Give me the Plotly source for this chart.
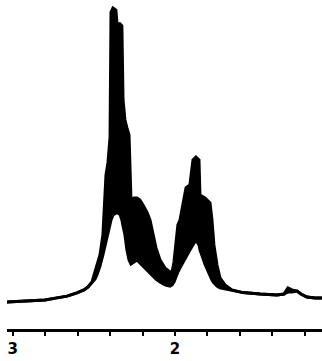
import plotly.graph_objects as go

# chemical shift (ppm)
ppm = [3.035, 2.955, 2.875, 2.801, 2.727, 2.665, 2.604, 2.561, 2.536, 2.511,
       2.493, 2.481, 2.462, 2.444, 2.431, 2.425, 2.413, 2.400, 2.394, 2.382,
       2.364, 2.357, 2.339, 2.327, 2.320, 2.308, 2.296, 2.283, 2.271, 2.253,
       2.234, 2.216, 2.197, 2.173, 2.154, 2.136, 2.117, 2.092, 2.062, 2.031,
       2.018, 2.006, 1.994, 1.982, 1.969, 1.951, 1.932, 1.908, 1.889, 1.871,
       1.852, 1.846, 1.815, 1.784, 1.772, 1.760, 1.741, 1.723, 1.692, 1.649,
       1.581, 1.476, 1.372, 1.328, 1.304, 1.279, 1.248, 1.224, 1.187, 1.137,
       1.094]

# upper envelope of the unresolved multiplet signal (relative intensity)
upper = [0.0, 0.2, 0.3, 0.7, 1.4, 2.0, 3.1, 4.1, 5.1, 6.8,
         10.2, 12.2, 16.0, 22.8, 38.1, 43.2, 47.3, 56.1, 98.6, 100.0,
         99.3, 94.6, 94.6, 93.9, 68.7, 61.9, 59.2, 56.8, 34.7, 35.4,
         35.4, 34.7, 33.0, 30.6, 27.9, 23.8, 18.4, 14.3, 11.6, 10.2,
         10.2, 13.6, 19.4, 26.2, 27.9, 33.0, 38.8, 39.8, 48.3, 49.3,
         48.3, 36.4, 35.4, 33.7, 27.9, 19.4, 12.6, 8.2, 5.8, 4.1,
         3.2, 2.7, 2.4, 2.7, 4.8, 4.1, 3.7, 2.7, 1.7, 1.4,
         1.4]

# lower envelope of the signal (relative intensity)
lower = [0.0, 0.2, 0.3, 0.7, 1.4, 2.0, 3.1, 4.1, 5.1, 6.8,
         7.8, 9.2, 12.2, 16.0, 19.4, 21.1, 23.8, 26.5, 27.9, 29.6,
         30.3, 30.3, 29.9, 27.9, 25.9, 22.8, 17.7, 14.3, 12.9, 13.6,
         14.3, 13.3, 12.2, 10.9, 9.9, 8.8, 7.8, 6.8, 5.8, 5.4,
         5.8, 6.8, 8.8, 10.2, 11.6, 13.6, 15.3, 17.7, 19.7, 21.1,
         19.4, 17.7, 12.9, 8.8, 7.5, 6.5, 5.4, 4.8, 4.4, 4.1,
         3.2, 2.7, 2.4, 2.7, 3.4, 3.4, 3.7, 2.7, 1.7, 1.4,
         1.4]

tick_vals = [3.0, 2.8, 2.6, 2.4, 2.2, 2.0, 1.8, 1.6, 1.4, 1.2]
tick_text = ["3", "", "", "", "", "2", "", "", "", ""]

fig = go.Figure()
fig.add_trace(go.Scatter(x=ppm, y=upper, mode="lines",
                         line=dict(color="black", width=3),
                         hoverinfo="skip", showlegend=False))
fig.add_trace(go.Scatter(x=ppm, y=lower, mode="lines", fill="tonexty",
                         fillcolor="black",
                         line=dict(color="black", width=3),
                         hoverinfo="skip", showlegend=False))

fig.update_layout(
    width=322, height=361,
    margin=dict(l=0, r=0, t=0, b=32, autoexpand=False),
    paper_bgcolor="white", plot_bgcolor="white",
    xaxis=dict(range=[3.035, 1.094], domain=[0.0217, 1], automargin=False,
               showgrid=False, zeroline=False,
               showline=True, linecolor="black", linewidth=2.5,
               ticks="outside", ticklen=4, tickwidth=2, tickcolor="black",
               tickvals=tick_vals, ticktext=tick_text,
               tickfont=dict(family="DejaVu Sans", size=15, color="black",
                             weight="bold")),
    yaxis=dict(range=[-9.18, 102.72], visible=False, automargin=False,
               showgrid=False, zeroline=False),
)

fig.write_html("out.html", config={"displayModeBar": False},
               post_script="document.body.style.margin='0';document.body.style.overflow='hidden';")
